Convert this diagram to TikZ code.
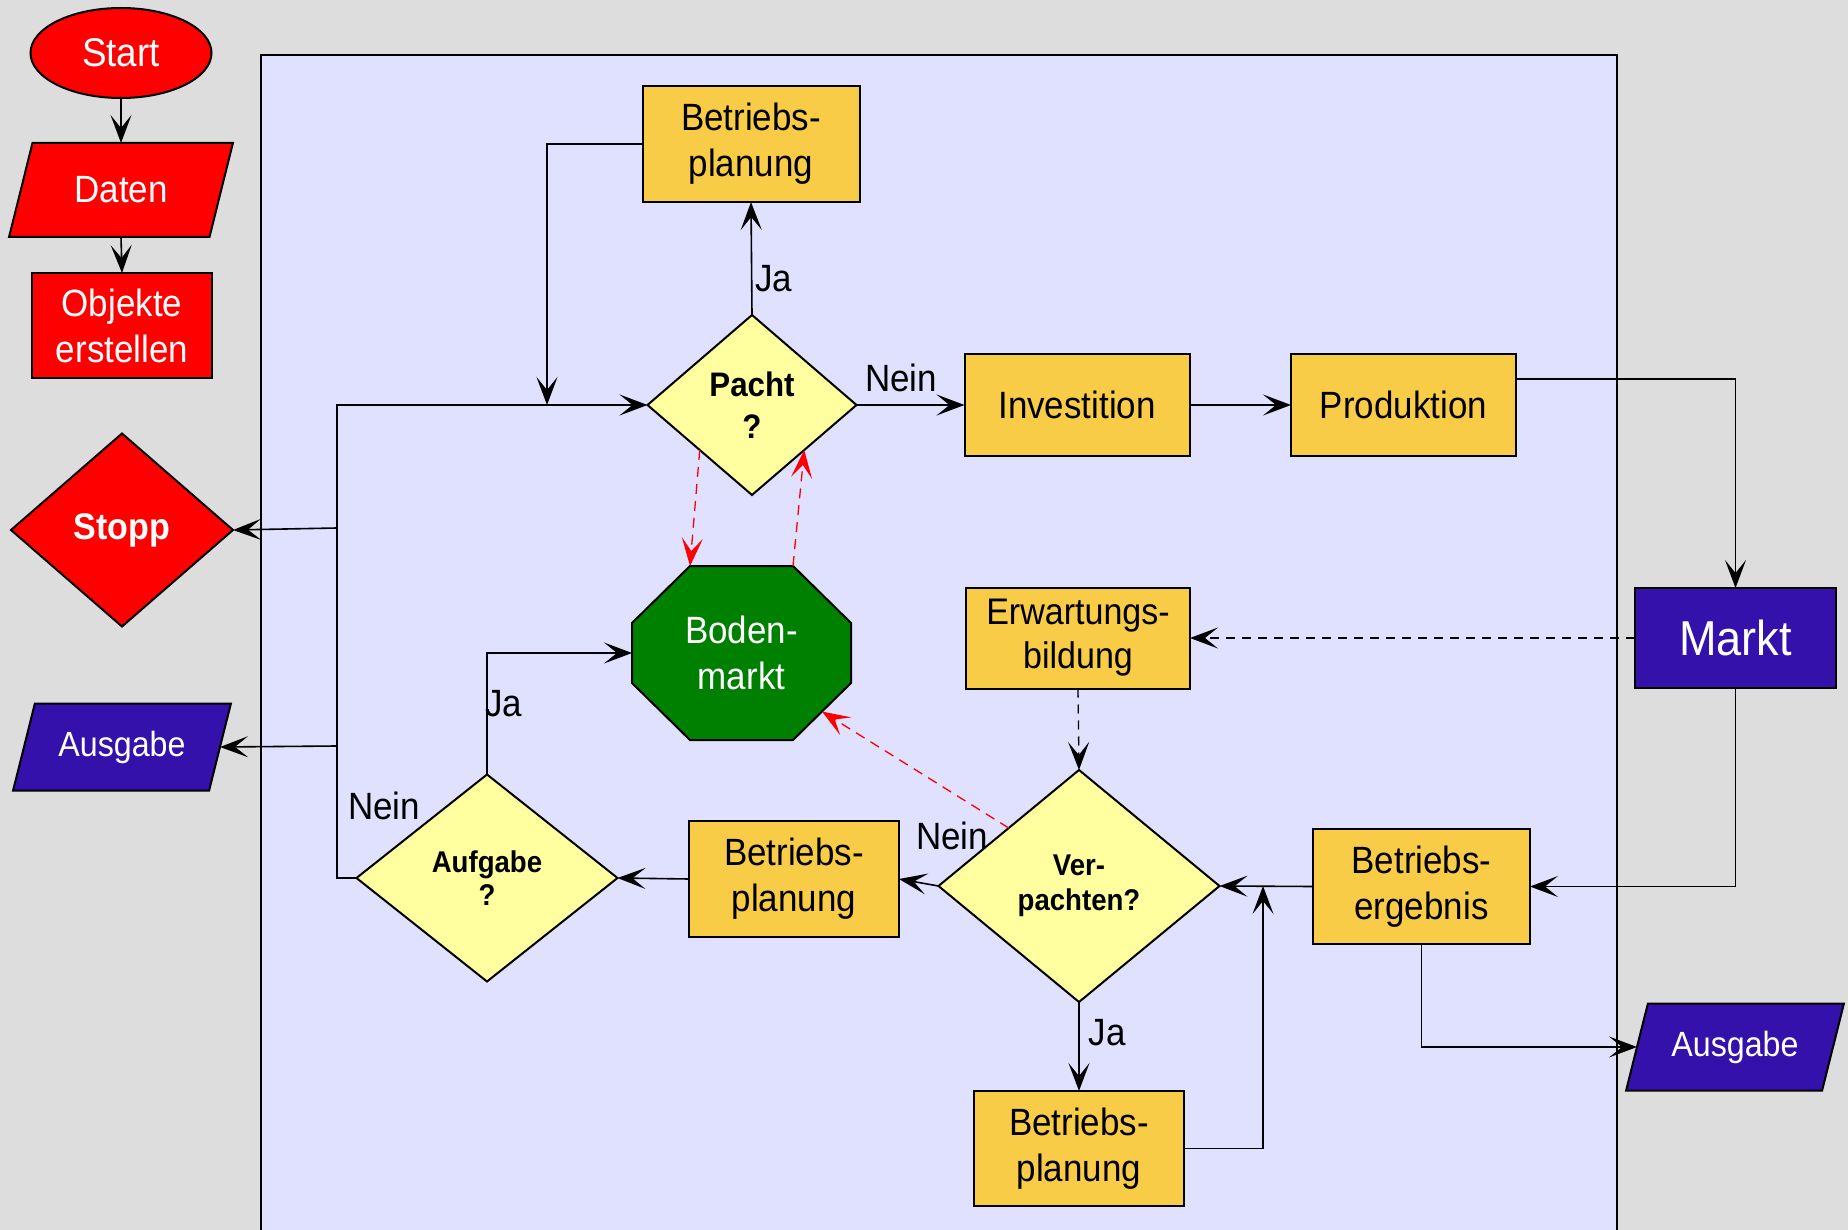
\documentclass[tikz,border=0pt]{standalone}
\usepackage{fontspec}
\setmainfont{Liberation Sans}[FakeStretch=0.92]
\usetikzlibrary{shapes.geometric,arrows.meta}
\definecolor{bggray}{RGB}{221,221,221}
\definecolor{lav}{RGB}{224,224,255}
\definecolor{boxorange}{RGB}{248,204,70}
\definecolor{diayellow}{RGB}{255,255,160}
\definecolor{octgreen}{RGB}{0,128,0}
\definecolor{deepblue}{RGB}{51,17,170}
\begin{document}
\begin{tikzpicture}[x=1pt,y=-1pt,
  every node/.style={inner sep=0pt,outer sep=0pt},
  bigtext/.style={font=\fontsize{38}{46}\selectfont},
  box/.style={rectangle,draw=black,line width=2pt,fill=boxorange,align=center,bigtext},
  redbox/.style={rectangle,draw=black,line width=2pt,fill=red,text=white,align=center,bigtext},
  dec/.style={diamond,draw=black,line width=2pt,fill=diayellow,align=center,font=\bfseries\fontsize{30}{35}\selectfont},
  para/.style={trapezium,trapezium left angle=64,trapezium right angle=116,trapezium stretches=true,draw=black,line width=2pt,text=white,font=\fontsize{35}{42}\selectfont},
  tip/.style={-{Stealth[length=28pt 0,width=21pt 0,inset=13pt 0]}},
  conn/.style={draw=black,line width=1.6pt,tip},
  dashconn/.style={draw=black,line width=1.3pt,dash pattern=on 9pt off 7pt,tip},
  reddash/.style={draw=red,line width=1.3pt,dash pattern=on 10pt off 7pt,tip},
  lbl/.style={bigtext,text=black}]

\fill[bggray] (0,0) rectangle (1848,1230);
\useasboundingbox (0,0) rectangle (1848,1230);
\draw[line width=2pt,fill=lav] (261,55) rectangle (1617,1260);

% left column
\node[ellipse,draw=black,line width=2pt,fill=red,text=white,minimum width=181pt,minimum height=90pt,font=\fontsize{40}{46}\selectfont] (start) at (121,53) {Start};
\node[para,fill=red,trapezium left angle=65,trapezium right angle=115,minimum width=224pt,minimum height=94pt,font=\fontsize{38}{46}\selectfont] (daten) at (121,190) {Daten};
\node[redbox,minimum width=180pt,minimum height=105pt] (obj) at (122,325.5) {Objekte\\erstellen};
\node[diamond,draw=black,line width=2pt,fill=red,text=white,font=\bfseries\fontsize{37}{44}\selectfont,minimum width=222pt,minimum height=193pt] (stopp) at (122,530) {Stopp};
\node[para,fill=deepblue,minimum width=218pt,minimum height=87pt] (aus1) at (122,747) {Ausgabe};

% inner nodes
\node[box,minimum width=217pt,minimum height=116pt] (betr1) at (751,144) {Betriebs-\\planung};
\node[dec,font=\bfseries\fontsize{34}{42}\selectfont,minimum width=209pt,minimum height=180pt] (pacht) at (752,405) {Pacht\\?};
\node[box,minimum width=225pt,minimum height=102pt] (invest) at (1077,405) {Investition};
\node[box,minimum width=225pt,minimum height=102pt] (prod) at (1403.5,405) {Produktion};
\node[rectangle,draw=black,line width=2pt,fill=deepblue,text=white,minimum width=201pt,minimum height=100pt,font=\fontsize{49}{56}\selectfont] (markt) at (1735.5,638) {Markt};
\node[box,minimum width=224pt,minimum height=101pt,font=\fontsize{37}{44}\selectfont] (erw) at (1078,638) {Erwartungs-\\bildung};

% Bodenmarkt octagon
\filldraw[fill=octgreen,draw=black,line width=2pt] (690,566) -- (793,566) -- (851,623) -- (851,683) -- (793,740) -- (690,740) -- (632,683) -- (632,623) -- cycle;
\node[rectangle,minimum width=219pt,minimum height=174pt,text=white,align=center,bigtext] (boden) at (741.5,653) {Boden-\\markt};

\node[dec,minimum width=281pt,minimum height=232pt] (verp) at (1079,886) {Ver-\\pachten?};
\node[dec,font=\bfseries\fontsize{30}{33}\selectfont,minimum width=261pt,minimum height=207pt] (aufg) at (487,878) {Aufgabe\\?};
\node[box,minimum width=210pt,minimum height=116pt] (betr2) at (794,879) {Betriebs-\\planung};
\node[box,minimum width=210pt,minimum height=115pt] (betr3) at (1079,1148.5) {Betriebs-\\planung};
\node[box,minimum width=217pt,minimum height=115pt] (ergeb) at (1421.5,886.5) {Betriebs-\\ergebnis};
\node[para,fill=deepblue,minimum width=218pt,minimum height=87pt] (aus2) at (1735,1047) {Ausgabe};

% labels
\node[lbl,anchor=west] (ja1) at (755,279) {Ja};
\node[lbl] (nein1) at (901,378) {Nein};
\node[lbl,anchor=west] (ja2) at (485,704) {Ja};
\node[lbl] (nein2) at (384,806) {Nein};
\node[lbl] (nein3) at (952,836) {Nein};
\node[lbl] (ja3) at (1107,1033) {Ja};

% junction coordinates
\coordinate (busT) at (337,405);
\coordinate (busB) at (337,878);
\coordinate (busS) at (337,528);
\coordinate (busA) at (337,746);
\coordinate (j0) at (547,405);
\coordinate (j1) at (1263,886);

% connectors
\draw[conn] (start.south) -- (daten.north);
\draw[conn] (daten.south) -- (obj.north);
\draw[conn] (pacht.north) -- (betr1.south);
\draw[conn] (betr1.west) -| (j0);
\draw[conn] (aufg.west) -- (busB) -- (busT) -- (pacht.west);
\draw[conn] (busS) -- (stopp.east);
\draw[conn] (busA) -- (aus1.east);
\draw[conn] (pacht.east) -- (invest.west);
\draw[conn] (invest.east) -- (prod.west);
\draw[conn] ([yshift=26pt]prod.east) -| (markt.north);
\draw[dashconn] (markt.west) -- (erw.east);
\draw[dashconn] (erw.south) -- (verp.north);
\draw[conn] (markt.south) |- (ergeb.east);
\draw[conn] (ergeb.west) -- (verp.east);
\draw[conn] (ergeb.south) |- (aus2.west);
\draw[conn] (verp.south) -- (betr3.north);
\draw[conn] (betr3.east) -| (j1);
\draw[conn] (verp.west) -- (betr2.east);
\draw[conn] (betr2.west) -- (aufg.east);
\draw[conn] (aufg.north) |- (boden.west);
\draw[reddash] (pacht.south west) -- ([xshift=-51.5pt]boden.north);
\draw[reddash] ([xshift=51.5pt]boden.north) -- (pacht.south east);
\draw[reddash] (verp.north west) -- ([xshift=-29pt,yshift=28.5pt]boden.south east);
\end{tikzpicture}
\end{document}
